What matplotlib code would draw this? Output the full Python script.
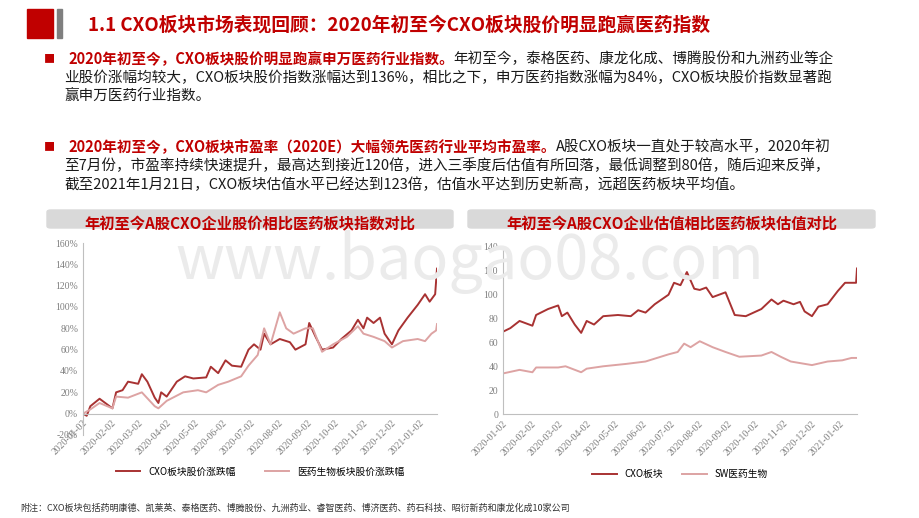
import matplotlib
matplotlib.use("Agg")
import matplotlib.pyplot as plt
import matplotlib.dates as mdates
from matplotlib.patches import Rectangle, FancyBboxPatch
import pandas as pd

plt.rcParams['font.family'] = ['Noto Sans CJK SC', 'DejaVu Sans']

# ---- data ----
cxo_px_dates = ['2020-01-02', '2020-01-06', '2020-01-10', '2020-01-20', '2020-02-03', '2020-02-07', '2020-02-14',
                '2020-02-20', '2020-03-02', '2020-03-06', '2020-03-12', '2020-03-20', '2020-03-24', '2020-03-27',
                '2020-04-02', '2020-04-13', '2020-04-22', '2020-05-01', '2020-05-15', '2020-05-20', '2020-05-28',
                '2020-06-05', '2020-06-12', '2020-06-22', '2020-06-30', '2020-07-06', '2020-07-13', '2020-07-17',
                '2020-07-24', '2020-08-03', '2020-08-14', '2020-08-20', '2020-08-31', '2020-09-04', '2020-09-11',
                '2020-09-18', '2020-09-30', '2020-10-09', '2020-10-20', '2020-10-27', '2020-11-02', '2020-11-06',
                '2020-11-13', '2020-11-20', '2020-11-25', '2020-12-03', '2020-12-10', '2020-12-20', '2020-12-31',
                '2021-01-08', '2021-01-13', '2021-01-19', '2021-01-21']
cxo_px = [0, -2, 7, 14, 5, 20, 22, 30, 28, 37, 30, 15, 10, 20,
          16, 30, 35, 33, 34, 44, 38, 50, 45, 44, 60, 65, 60, 75,
          65, 70, 67, 60, 65, 85, 72, 60, 62, 70, 78, 88, 80, 90,
          85, 90, 75, 65, 78, 90, 102, 112, 105, 112, 136]

med_px_dates = ['2020-01-02', '2020-01-10', '2020-01-20', '2020-02-03', '2020-02-07', '2020-02-20', '2020-03-06',
                '2020-03-20', '2020-03-24', '2020-04-02', '2020-04-20', '2020-05-06', '2020-05-15', '2020-05-28',
                '2020-06-08', '2020-06-22', '2020-06-30', '2020-07-10', '2020-07-17', '2020-07-24', '2020-08-03',
                '2020-08-10', '2020-08-18', '2020-08-31', '2020-09-08', '2020-09-18', '2020-09-30', '2020-10-15',
                '2020-10-27', '2020-11-02', '2020-11-13', '2020-11-25', '2020-12-03', '2020-12-15', '2020-12-31',
                '2021-01-08', '2021-01-15', '2021-01-20', '2021-01-21']
med_px = [0, 4, 10, 5, 16, 15, 20, 7, 5, 12, 20, 22, 20, 27,
          30, 35, 45, 55, 80, 65, 95, 80, 75, 80, 80, 58, 65, 72,
          82, 75, 72, 68, 62, 68, 70, 68, 75, 78, 84]

cxo_pe_dates = ['2020-01-02', '2020-01-10', '2020-01-20', '2020-02-03', '2020-02-07', '2020-02-20', '2020-03-02',
                '2020-03-06', '2020-03-12', '2020-03-20', '2020-03-27', '2020-04-02', '2020-04-10', '2020-04-20',
                '2020-05-06', '2020-05-20', '2020-05-28', '2020-06-05', '2020-06-15', '2020-06-30', '2020-07-06',
                '2020-07-13', '2020-07-20', '2020-07-28', '2020-08-03', '2020-08-10', '2020-08-17', '2020-08-31',
                '2020-09-10', '2020-09-22', '2020-10-09', '2020-10-20', '2020-10-27', '2020-11-02', '2020-11-13',
                '2020-11-20', '2020-11-25', '2020-12-03', '2020-12-10', '2020-12-20', '2020-12-31', '2021-01-08',
                '2021-01-15', '2021-01-20', '2021-01-21']
cxo_pe = [69, 72, 78, 74, 83, 88, 91, 82, 85, 75, 68, 78, 75, 82,
          83, 82, 87, 85, 92, 100, 110, 108, 119, 105, 104, 106, 98, 102,
          83, 82, 88, 96, 92, 95, 92, 94, 86, 82, 90, 92, 103, 110,
          110, 110, 122]

sw_pe_dates = ['2020-01-02', '2020-01-20', '2020-02-03', '2020-02-07', '2020-03-02', '2020-03-10', '2020-03-27',
               '2020-04-02', '2020-04-20', '2020-05-15', '2020-06-05', '2020-06-30', '2020-07-10', '2020-07-17',
               '2020-07-24', '2020-08-03', '2020-08-17', '2020-08-31', '2020-09-15', '2020-10-09', '2020-10-20',
               '2020-10-30', '2020-11-10', '2020-12-03', '2020-12-20', '2021-01-05', '2021-01-15', '2021-01-21']
sw_pe = [34, 37, 35, 39, 39, 40, 35, 38, 40, 42, 44, 50, 52, 59,
         56, 61, 56, 52, 48, 49, 52, 48, 44, 41, 44, 45, 47, 47]

month_ticks = pd.date_range('2020-01-01', '2021-01-01', freq='MS') + pd.Timedelta(days=1)

DARK = '#A83232'
LIGHT = '#DDA3A3'
RED = '#C00000'
W, H = 920, 518

fig = plt.figure(figsize=(9.2, 5.18), dpi=100)


def px(x, y):
    return x / W, 1 - y / H


# header
fig.add_artist(Rectangle(px(27, 38), 26 / W, 29 / H, color=RED, transform=fig.transFigure))
fig.add_artist(Rectangle(px(57, 38), 5 / W, 29 / H, color='#7F7F7F', transform=fig.transFigure))
fig.text(*px(88, 25), '1.1 CXO板块市场表现回顾：2020年初至今CXO板块股价明显跑赢医药指数',
         fontsize=13.5, fontweight='bold', color=RED, va='center')

fig.canvas.draw()
rend = fig.canvas.get_renderer()


def rich_line(x, y, parts, size=10.5):
    # draw red-bold / black pieces one after another on one line
    for txt, red in parts:
        t = fig.text(*px(x, y), txt, fontsize=size, va='center',
                     color=RED if red else '#1A1A1A', fontweight='bold' if red else 'normal')
        x += t.get_window_extent(rend).width


for yb in (59, 147):
    fig.text(*px(44, yb), '■', fontsize=8, color=RED, va='center')

rich_line(68, 59, [('2020年初至今，CXO板块股价明显跑赢申万医药行业指数。', True),
                   ('年初至今，泰格医药、康龙化成、博腾股份和九洲药业等企', False)])
rich_line(64, 78, [('业股价涨幅均较大，CXO板块股价指数涨幅达到136%，相比之下，申万医药指数涨幅为84%，CXO板块股价指数显著跑', False)])
rich_line(64, 97, [('赢申万医药行业指数。', False)])
rich_line(68, 147, [('2020年初至今，CXO板块市盈率（2020E）大幅领先医药行业平均市盈率。', True),
                    ('A股CXO板块一直处于较高水平，2020年初', False)])
rich_line(64, 166, [('至7月份，市盈率持续快速提升，最高达到接近120倍，进入三季度后估值有所回落，最低调整到80倍，随后迎来反弹，', False)])
rich_line(64, 185, [('截至2021年1月21日，CXO板块估值水平已经达到123倍，估值水平达到历史新高，远超医药板块平均值。', False)])

# chart title bars
for x0, x1, title in ((47, 453, '年初至今A股CXO企业股价相比医药板块指数对比'),
                      (468, 875, '年初至今A股CXO企业估值相比医药板块估值对比')):
    fig.add_artist(FancyBboxPatch(px(x0, 228), (x1 - x0) / W, 18 / H, boxstyle='round,pad=0,rounding_size=0.004',
                                  color='#D9D9D9', transform=fig.transFigure))
    fig.text(*px((x0 + x1) / 2, 224), title, fontsize=11, fontweight='bold', color=RED,
             ha='center', va='center')

fig.text(*px(470, 262), 'www.baogao08.com', fontsize=44, color='#EBEBEB', ha='center', va='center', zorder=0)

serif = ['Liberation Serif', 'DejaVu Serif']


def style_axes(ax):
    ax.set_facecolor('none')
    for s in ('top', 'right'):
        ax.spines[s].set_visible(False)
    for s in ('left', 'bottom'):
        ax.spines[s].set_color('#BFBFBF')
    ax.set_xlim(pd.Timestamp('2020-01-02'), pd.Timestamp('2021-01-21'))
    ax.set_xticks(month_ticks)
    ax.xaxis.set_major_formatter(mdates.DateFormatter('%Y-%m-%d'))
    ax.tick_params(length=0, labelsize=7, colors='#595959')
    ax.tick_params(axis='x', labelrotation=45)
    for lab in ax.get_xticklabels() + ax.get_yticklabels():
        lab.set_family(serif)
        lab.set_color('#7F7F7F')
    for lab in ax.get_xticklabels():
        lab.set_ha('right')
        lab.set_rotation_mode('anchor')


ax1 = fig.add_axes([83 / W, 1 - 435 / H, (437 - 83) / W, (435 - 243) / H])
ax1.plot(pd.to_datetime(cxo_px_dates), cxo_px, color=DARK, lw=1.4, label='CXO板块股价涨跌幅')
ax1.plot(pd.to_datetime(med_px_dates), med_px, color=LIGHT, lw=1.4, label='医药生物板块股价涨跌幅')
ax1.set_ylim(-20, 160)
ax1.set_yticks(range(-20, 161, 20))
ax1.set_yticklabels([f'{v}%' for v in range(-20, 161, 20)])
ax1.spines['bottom'].set_position(('data', 0))
style_axes(ax1)
ax1.legend(loc='center', bbox_to_anchor=(0.5, -0.19), ncol=2, frameon=False, fontsize=7, handlelength=2.5,
           columnspacing=3)

ax2 = fig.add_axes([503 / W, 1 - 414 / H, (857 - 503) / W, (414 - 247) / H])
ax2.plot(pd.to_datetime(cxo_pe_dates), cxo_pe, color=DARK, lw=1.4, label='CXO板块')
ax2.plot(pd.to_datetime(sw_pe_dates), sw_pe, color=LIGHT, lw=1.4, label='SW医药生物')
ax2.set_ylim(0, 140)
ax2.set_yticks(range(0, 141, 20))
style_axes(ax2)
ax2.legend(loc='center', bbox_to_anchor=(0.5, -0.36), ncol=2, frameon=False, fontsize=7, handlelength=2.5)

fig.text(*px(20, 508), '附注：CXO板块包括药明康德、凯莱英、泰格医药、博腾股份、九洲药业、睿智医药、博济医药、药石科技、昭衍新药和康龙化成10家公司',
         fontsize=6.5, style='italic', color='#333333', va='center')

fig.savefig('out.png', dpi=100)
